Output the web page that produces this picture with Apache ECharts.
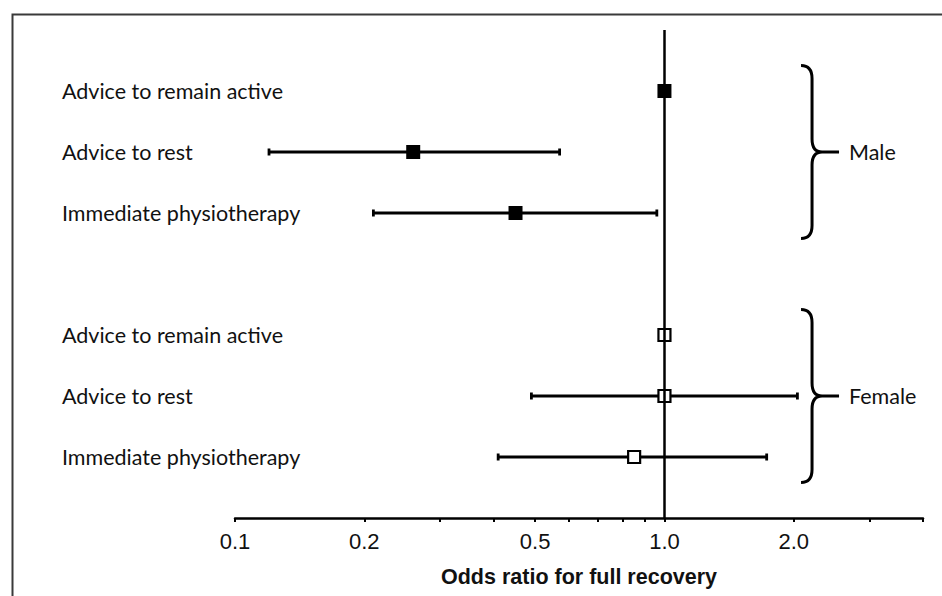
<!DOCTYPE html>
<html><head><meta charset="utf-8">
<script src="https://cdn.jsdelivr.net/npm/echarts@6/dist/echarts.min.js"></script>
<style>html,body{margin:0;padding:0;background:#fff}#c{width:942px;height:596px}</style>
</head><body><div id="c"></div><script>
// ---- data ----
const treatments = ['Advice to remain active', 'Advice to rest', 'Immediate physiotherapy'];
const groups = ['Male', 'Female'];
const maleOR = [1.0, 0.26, 0.45];
const maleLow = [null, 0.12, 0.21];
const maleHigh = [null, 0.57, 0.96];
const femaleOR = [1.0, 1.0, 0.85];
const femaleLow = [null, 0.49, 0.41];
const femaleHigh = [null, 2.04, 1.73];
const xTickValues = [0.1, 0.2, 0.3, 0.4, 0.5, 0.6, 0.7, 0.8, 0.9, 1.0, 2.0, 3.0, 4.0];
const xLabelValues = [0.1, 0.2, 0.5, 1.0, 2.0];
const xMin = 0.1, xMax = 4.0;
const referenceOR = 1.0;
const xTitle = 'Odds ratio for full recovery';

// ---- build ----
const lg = Math.log10;
const rowOf = (g, i) => g * (treatments.length + 1) + i + 1;
const nRows = groups.length * (treatments.length + 1);
const rowLabel = {};
groups.forEach((g, gi) => treatments.forEach((t, i) => { rowLabel[rowOf(gi, i)] = t; }));

const ciData = [];
[[maleLow, maleHigh], [femaleLow, femaleHigh]].forEach(([lo, hi], gi) => {
  lo.forEach((v, i) => { if (v != null) ciData.push([lg(v), lg(hi[i]), rowOf(gi, i)]); });
});
const malePts = maleOR.map((v, i) => [lg(v), rowOf(0, i)]);
const femalePts = femaleOR.map((v, i) => [lg(v), rowOf(1, i)]);
const braceData = groups.map((g, gi) => [rowOf(gi, 0) - 0.42, rowOf(gi, treatments.length - 1) + 0.42, gi]);
const braceAnchor = 2.08;

const chart = echarts.init(document.getElementById('c'), null, { renderer: 'svg' });
chart.setOption({
  animation: false,
  backgroundColor: '#fff',
  graphic: [{
    type: 'rect', left: 10, top: 12, shape: { width: 1000, height: 700 },
    style: { fill: 'none', stroke: '#3a3a3a', lineWidth: 2 }, silent: true, z: 0
  }],
  grid: { left: 235, right: 19, top: 30, bottom: 78, containLabel: false },
  xAxis: {
    type: 'value', min: lg(xMin), max: lg(xMax),
    axisLine: { show: true, onZero: false, lineStyle: { color: '#000', width: 2.5 } },
    axisTick: { show: true, customValues: xTickValues.map(lg), length: 4, lineStyle: { color: '#000', width: 2 } },
    axisLabel: {
      customValues: xLabelValues.map(lg),
      formatter: v => Math.pow(10, v).toFixed(1),
      fontFamily: 'Liberation Sans', fontSize: 22, color: '#111', margin: 12
    },
    splitLine: { show: false },
    name: xTitle, nameLocation: 'middle', nameGap: 48,
    nameTextStyle: { fontFamily: 'Liberation Sans', fontWeight: 'bold', fontSize: 21.5, color: '#111' }
  },
  yAxis: {
    type: 'value', inverse: true, min: 0, max: nRows, interval: 1,
    axisLine: { show: false }, axisTick: { show: false }, splitLine: { show: false },
    axisLabel: {
      formatter: v => rowLabel[v] || '', align: 'left', margin: 173,
      fontFamily: 'Lato', fontSize: 21.5, color: '#111'
    }
  },
  series: [
    {
      type: 'custom', name: 'CI', data: ciData, encode: { x: [0, 1], y: 2 }, z: 2,
      renderItem: (params, api) => {
        const a = api.coord([api.value(0), api.value(2)]);
        const b = api.coord([api.value(1), api.value(2)]);
        const h = 3.5, st = { stroke: '#000', lineWidth: 2.8 };
        return { type: 'group', children: [
          { type: 'line', shape: { x1: a[0], y1: a[1], x2: b[0], y2: b[1] }, style: st },
          { type: 'line', shape: { x1: a[0], y1: a[1] - h, x2: a[0], y2: a[1] + h }, style: st },
          { type: 'line', shape: { x1: b[0], y1: b[1] - h, x2: b[0], y2: b[1] + h }, style: st }
        ] };
      },
      markLine: {
        silent: true, symbol: ['none', 'none'], label: { show: false },
        lineStyle: { color: '#000', width: 2.5, type: 'solid' },
        data: [{ xAxis: lg(referenceOR) }]
      }
    },
    {
      type: 'scatter', name: 'Male', data: malePts, symbol: 'rect', symbolSize: 14, z: 4,
      itemStyle: { color: '#000', opacity: 1 }
    },
    {
      type: 'scatter', name: 'Female', data: femalePts, symbol: 'rect', symbolSize: 12, z: 4,
      itemStyle: { color: '#fff', borderColor: '#000', borderWidth: 2.2, opacity: 1 }
    },
    {
      type: 'custom', name: 'Groups', data: braceData, encode: { y: [0, 1] }, z: 2, clip: false,
      renderItem: (params, api) => {
        const top = api.coord([lg(braceAnchor), api.value(0)]);
        const bot = api.coord([lg(braceAnchor), api.value(1)]);
        const x0 = top[0], y0 = top[1], y1 = bot[1], ym = (y0 + y1) / 2;
        const x1 = x0 + 11, x2 = x1 + 10, tip = x0 + 38, r = 13;
        const d = `M${x0},${y0} Q${x1},${y0} ${x1},${y0 + r} L${x1},${ym - r} Q${x1},${ym} ${x2},${ym} L${tip},${ym} ` +
                  `M${x2},${ym} Q${x1},${ym} ${x1},${ym + r} L${x1},${y1 - r} Q${x1},${y1} ${x0},${y1}`;
        return { type: 'group', children: [
          { type: 'path', shape: { pathData: d }, style: { fill: 'none', stroke: '#000', lineWidth: 3 } },
          { type: 'text', x: tip + 10, y: ym, style: { text: groups[api.value(2)], fill: '#111',
            font: '21.5px Lato', verticalAlign: 'middle', align: 'left' } }
        ] };
      }
    }
  ]
});
</script></body></html>
